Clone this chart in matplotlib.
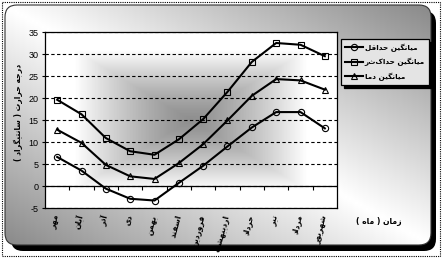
import numpy as np
import matplotlib
matplotlib.use('Agg')
import matplotlib.pyplot as plt
from matplotlib.patches import FancyBboxPatch, Rectangle

# Persian month names (Mehr .. Shahrivar), logical order
months = ['مهر', 'آبان', 'آذر', 'دی', 'بهمن', 'اسفند',
          'فروردین', 'اردیبهشت', 'خرداد', 'تیر', 'مرداد', 'شهریور']

t_min = [6.6, 3.5, -0.6, -2.9, -3.3, 0.7, 4.6, 9.0, 13.3, 16.8, 16.8, 13.1]
t_max = [19.6, 16.3, 10.9, 7.9, 7.1, 10.6, 15.2, 21.4, 28.2, 32.5, 32.1, 29.5]
t_mean = [12.8, 9.8, 4.8, 2.2, 1.6, 5.2, 9.5, 14.9, 20.5, 24.3, 24.0, 21.9]

series_labels = ['میانگین حداقل', 'میانگین حداکثر', 'میانگین دما']
y_label = 'درجه حرارت ( سانتیگراد )'
x_label = 'زمان ( ماه )'
y_ticks = [-5, 0, 5, 10, 15, 20, 25, 30, 35]

# minimal Arabic/Persian shaping: isolated, final, initial, medial
FORMS = {
    'ا': ('\uFE8D', '\uFE8E', None, None),
    'آ': ('\uFE81', '\uFE82', None, None),
    'ب': ('\uFE8F', '\uFE90', '\uFE91', '\uFE92'),
    'ت': ('\uFE95', '\uFE96', '\uFE97', '\uFE98'),
    'ج': ('\uFE9D', '\uFE9E', '\uFE9F', '\uFEA0'),
    'ح': ('\uFEA1', '\uFEA2', '\uFEA3', '\uFEA4'),
    'خ': ('\uFEA5', '\uFEA6', '\uFEA7', '\uFEA8'),
    'د': ('\uFEA9', '\uFEAA', None, None),
    'ذ': ('\uFEAB', '\uFEAC', None, None),
    'ر': ('\uFEAD', '\uFEAE', None, None),
    'ز': ('\uFEAF', '\uFEB0', None, None),
    'س': ('\uFEB1', '\uFEB2', '\uFEB3', '\uFEB4'),
    'ش': ('\uFEB5', '\uFEB6', '\uFEB7', '\uFEB8'),
    'ف': ('\uFED1', '\uFED2', '\uFED3', '\uFED4'),
    'ق': ('\uFED5', '\uFED6', '\uFED7', '\uFED8'),
    'ک': ('\uFB8E', '\uFB8F', '\uFB90', '\uFB91'),
    'گ': ('\uFB92', '\uFB93', '\uFB94', '\uFB95'),
    'ل': ('\uFEDD', '\uFEDE', '\uFEDF', '\uFEE0'),
    'م': ('\uFEE1', '\uFEE2', '\uFEE3', '\uFEE4'),
    'ن': ('\uFEE5', '\uFEE6', '\uFEE7', '\uFEE8'),
    'ه': ('\uFEE9', '\uFEEA', '\uFEEB', '\uFEEC'),
    'و': ('\uFEED', '\uFEEE', None, None),
    'ی': ('\uFBFC', '\uFBFD', '\uFBFE', '\uFBFF'),
}


def shape(s):
    out = []
    for i, c in enumerate(s):
        if c not in FORMS:
            out.append(c)
            continue
        prev = s[i - 1] if i > 0 else ''
        nxt = s[i + 1] if i + 1 < len(s) else ''
        f = FORMS[c]
        jp = prev in FORMS and FORMS[prev][2] is not None
        jn = nxt in FORMS and f[2] is not None
        if jp and jn:
            out.append(f[3])
        elif jp:
            out.append(f[1])
        elif jn:
            out.append(f[2])
        else:
            out.append(f[0])
    vis = ''.join(reversed(out))
    return vis.translate(str.maketrans('()', ')('))


W, H = 442, 258
fig = plt.figure(figsize=(W / 100, H / 100), dpi=100)
fig.patch.set_facecolor('white')

# background frame
bg = fig.add_axes([0, 0, 1, 1])
bg.axis('off')
bg.add_patch(Rectangle((1.5, 1.5), W - 4, H - 4, fill=False, ec='k', lw=0.8,
                       ls=(0, (1, 1)), zorder=0))
bg.add_patch(FancyBboxPatch((11, 11), 425, 240, boxstyle='round,pad=0,rounding_size=12',
                            fc='black', ec='none', zorder=0.5))
box = FancyBboxPatch((5, 5), 426, 240, boxstyle='round,pad=0,rounding_size=12',
                     fc='none', ec='#333333', lw=0.8, zorder=2)
bg.add_patch(box)
uu, vv = np.meshgrid(np.linspace(0, 1, 200), np.linspace(0, 1, 120))
grad = 1 - 0.46 * np.abs(uu - vv)
im = bg.imshow(grad, extent=(5, 431, 245, 5), cmap='gray', vmin=0, vmax=1,
               aspect='auto', interpolation='bilinear', zorder=1)
im.set_clip_path(box)
bg.set_xlim(0, W)
bg.set_ylim(H, 0)

# plot area
ax = fig.add_axes([45 / W, 1 - 208 / H, 292 / W, 176 / H])
x = np.arange(len(months))
u, v = np.meshgrid(np.linspace(-1, 1, 200), np.linspace(-1, 1, 120))
d = np.maximum(np.abs(u), np.abs(v))
shade = 0.56 + 0.44 * np.clip(d / 0.8, 0, 1) ** 1.3
ax.imshow(shade, extent=(-0.5, 11.5, -5, 35), cmap='gray', vmin=0, vmax=1,
          aspect='auto', interpolation='bilinear', zorder=0)

ax.grid(axis='y', color='k', lw=0.8, linestyle=(0, (3, 2.2)), zorder=1)
ax.axhline(0, color='k', lw=0.9, zorder=2)
ax.vlines(np.arange(0.5, 11, 1), -0.9, 0, color='k', lw=0.8, zorder=2)

mk = dict(color='k', lw=1.5, mfc='none', mec='k', mew=0.8, ms=4.5, zorder=3)
ax.plot(x, t_min, marker='o', label=shape(series_labels[0]), **mk)
ax.plot(x, t_max, marker='s', label=shape(series_labels[1]), **mk)
ax.plot(x, t_mean, marker='^', label=shape(series_labels[2]), **mk)

ax.set_xlim(-0.5, 11.5)
ax.set_ylim(-5, 35)
ax.set_yticks(y_ticks)
ax.set_yticklabels([str(t) for t in y_ticks], fontfamily='Liberation Sans', fontsize=6.5)
ax.tick_params(axis='y', length=2.5, width=0.8, pad=2)
ax.set_xticks(x)
ax.set_xticklabels([shape(m) for m in months], rotation=75, ha='right', va='center',
                   rotation_mode='anchor', fontsize=5.5, fontweight='bold',
                   fontfamily='DejaVu Sans')
ax.tick_params(axis='x', length=0, pad=5)
for sp in ax.spines.values():
    sp.set_linewidth(0.9)
    sp.set_zorder(4)

leg = ax.legend(loc='upper left', bbox_to_anchor=(341 / W, 1 - 39 / H),
                bbox_transform=fig.transFigure, borderaxespad=0, fancybox=False,
                shadow={'color': 'black', 'alpha': 1}, framealpha=1,
                facecolor='#e4e4e4', edgecolor='k', handlelength=2.4,
                prop={'family': 'DejaVu Sans', 'size': 5.2, 'weight': 'bold'},
                labelspacing=0.85, borderpad=0.6, handletextpad=0.3)
leg.get_frame().set_linewidth(0.9)

fig.text(18 / W, 1 - 112 / H, shape(y_label), rotation=90, ha='center', va='center',
         fontsize=5.5, fontweight='bold', fontfamily='DejaVu Sans')
fig.text(356 / W, 1 - 222 / H, shape(x_label), ha='left', va='center',
         fontsize=5.5, fontweight='bold', fontfamily='DejaVu Sans')

fig.savefig('out.png', dpi=100)
